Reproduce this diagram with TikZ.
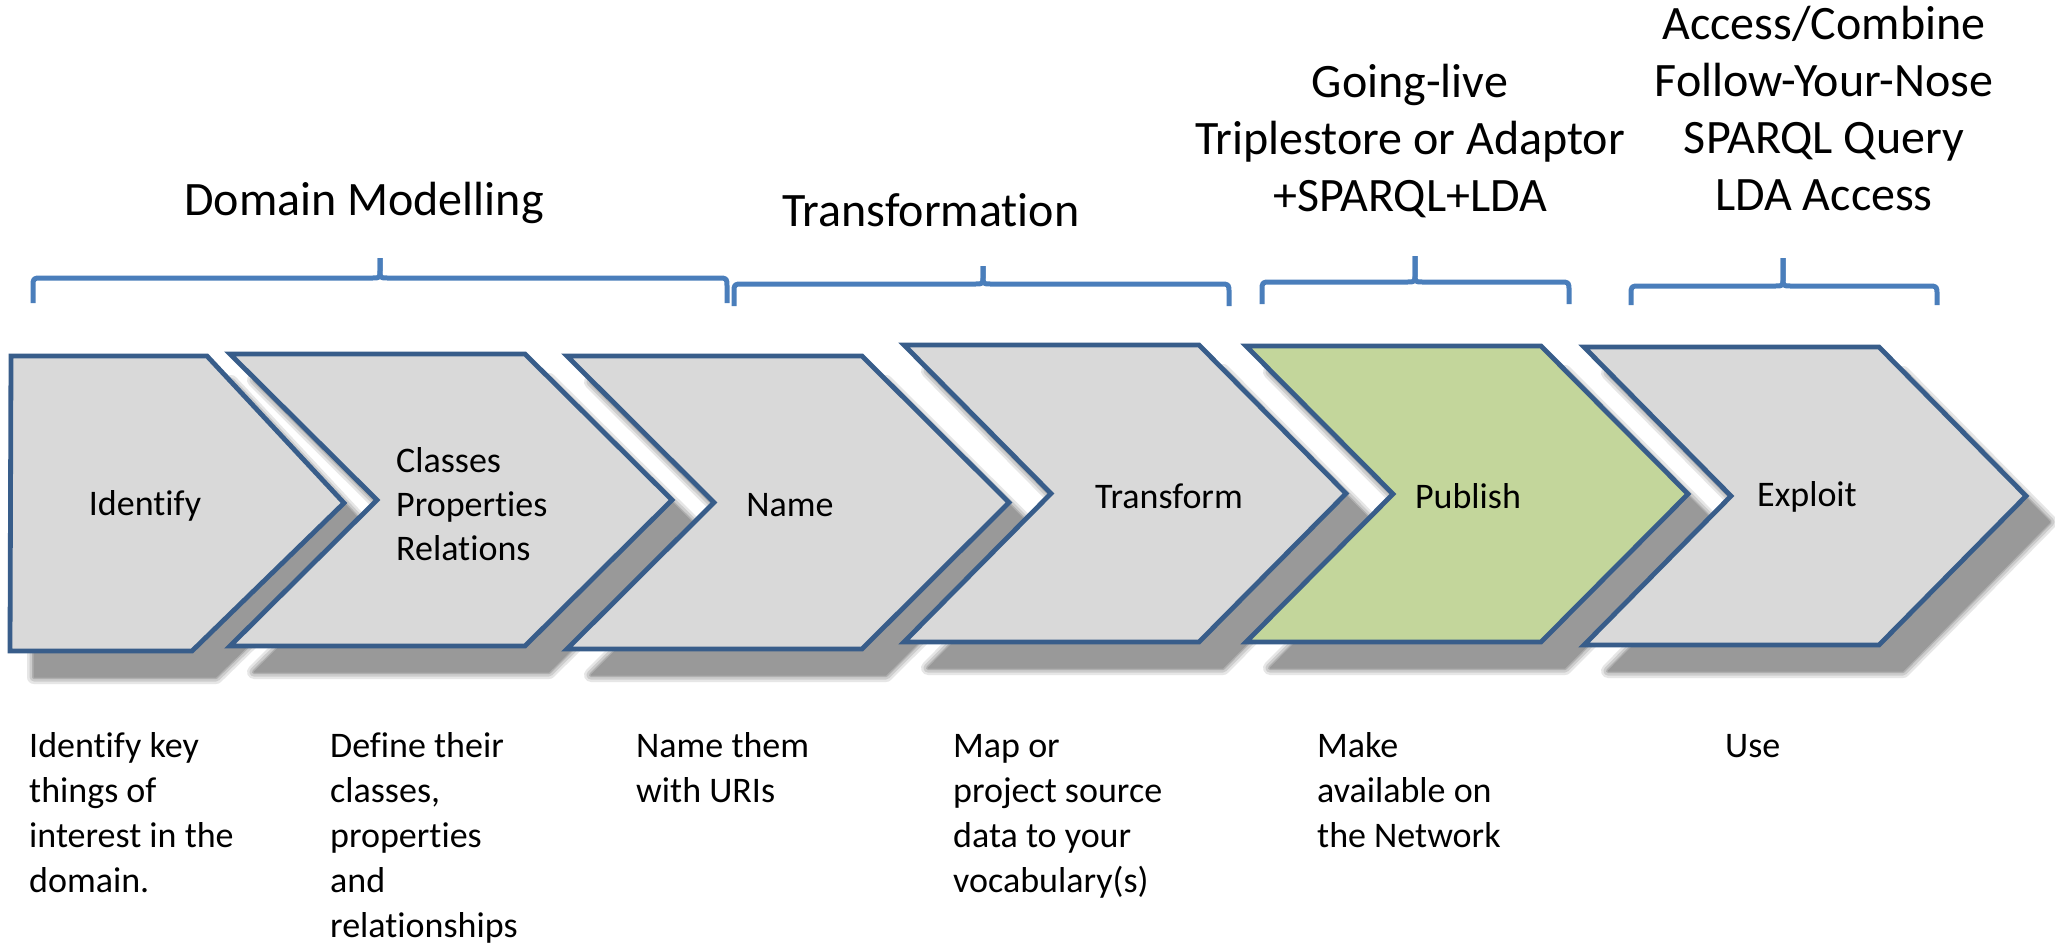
\documentclass[tikz,border=0pt]{standalone}
\usepackage{fontspec}
\setmainfont{Carlito}[Ligatures=NoCommon]
\definecolor{outl}{HTML}{385D8A}
\definecolor{chfill}{HTML}{D9D9D9}
\definecolor{pubfill}{HTML}{C3D69B}
\definecolor{brc}{HTML}{4A7EBB}
\definecolor{shd}{HTML}{999999}
\newcommand{\chevpoly}[4]{% opts, x, ytop, ybot
  \path[#1] ({#2},{#3}) -- ({#2+295},{#3}) -- ({#2+442},{(#3+#4)/2}) -- ({#2+295},{#4}) -- ({#2},{#4}) -- ({#2+147},{(#3+#4)/2}) -- cycle;}
\newcommand{\chevfirst}[1]{%
  \path[#1] (11,356) -- (207,356) -- (344,503) -- (192,651) -- (10,651) -- cycle;}
\newcommand{\allshapes}[2]{% opts for gray, opts for green
  \chevfirst{#1}
  \chevpoly{#1}{230}{354}{646}
  \chevpoly{#1}{567}{356}{649}
  \chevpoly{#1}{904}{345}{642}
  \chevpoly{#2}{1246}{346}{642}
  \chevpoly{#1}{1584}{347}{645}}
\newcommand{\bracepath}[6]{% x1, x2, xm, y, ytop, yend
  \draw[bracestyle] (#1,#6) -- (#1,{#4+9}) .. controls (#1,#4) .. ({#1+9},#4) -- ({#3-8},#4) .. controls (#3,#4) .. (#3,{#4-8}) -- (#3,#5);
  \draw[bracestyle] (#2,#6) -- (#2,{#4+9}) .. controls (#2,#4) .. ({#2-9},#4) -- ({#3+8},#4) .. controls (#3,#4) .. (#3,{#4-8}) -- (#3,#5);}
\begin{document}
\begin{tikzpicture}[x=1pt,y=-1pt,
  chevstyle/.style={draw=outl, line width=4.8pt, line join=miter, fill=chfill},
  pubstyle/.style={draw=outl, line width=4.8pt, line join=miter, fill=pubfill},
  bracestyle/.style={draw=brc, line width=5pt, line cap=butt, line join=round},
  toplbl/.style={font={\fontsize{48}{57}\selectfont}, align=center, inner sep=0pt},
  chlbl/.style={font={\fontsize{36}{44}\selectfont}, inner sep=0pt},
  botlbl/.style={font={\fontsize{36}{45}\selectfont}, align=left, anchor=north west, inner sep=0pt}]
\useasboundingbox[fill=white] (0,0) rectangle (2055,945);
% soft shadows
\foreach \lw/\pc in {14/25, 9/50, 4/78, 1/100} {
  \allshapes{fill=shd!\pc, draw=shd!\pc, line width=\lw pt, line join=round, shift={(24,26)}}{fill=shd!\pc, draw=shd!\pc, line width=\lw pt, line join=round, shift={(24,26)}}
}
% chevrons
\allshapes{chevstyle}{pubstyle}
% labels in chevrons
\node[chlbl] (id) at (145,506) {Identify};
\node[chlbl, align=left, anchor=west] (cl) at (396,504) {Classes\\Properties\\Relations};
\node[chlbl] (nm) at (790,505) {Name};
\node[chlbl] (tr) at (1169,496) {Transform};
\node[chlbl] (pb) at (1468,496) {Publish};
\node[chlbl] (ex) at (1807,497) {Exploit};
% braces
\bracepath{33}{727}{380}{278}{258}{303}
\bracepath{734}{1229}{983}{284}{266}{306}
\bracepath{1262}{1569}{1415}{282}{256}{304}
\bracepath{1631}{1937}{1783}{286}{258}{305}
% top labels
\node[toplbl] (dm) at (364,203) {Domain Modelling};
\node[toplbl] (tf) at (931,210) {Transformation};
\node[toplbl] (gl) at (1410,141) {Going-live\\Triplestore or Adaptor\\+SPARQL+LDA};
\node[toplbl] (ac) at (1824,109) {Access/Combine\\Follow-Your-Nose\\SPARQL Query\\LDA Access};
% bottom labels
\node[botlbl] (d1) at (29,726) {\strut Identify key\\things of\\interest in the\\domain.};
\node[botlbl] (d2) at (330,726) {\strut Define their\\classes,\\properties\\and\\relationships};
\node[botlbl] (d3) at (636,726) {\strut Name them\\with URIs};
\node[botlbl] (d4) at (953,726) {\strut Map or\\project source\\data to your\\vocabulary(s)};
\node[botlbl] (d5) at (1317,726) {\strut Make\\available on\\the Network};
\node[botlbl] (d6) at (1725,726) {\strut Use};
\end{tikzpicture}
\end{document}
